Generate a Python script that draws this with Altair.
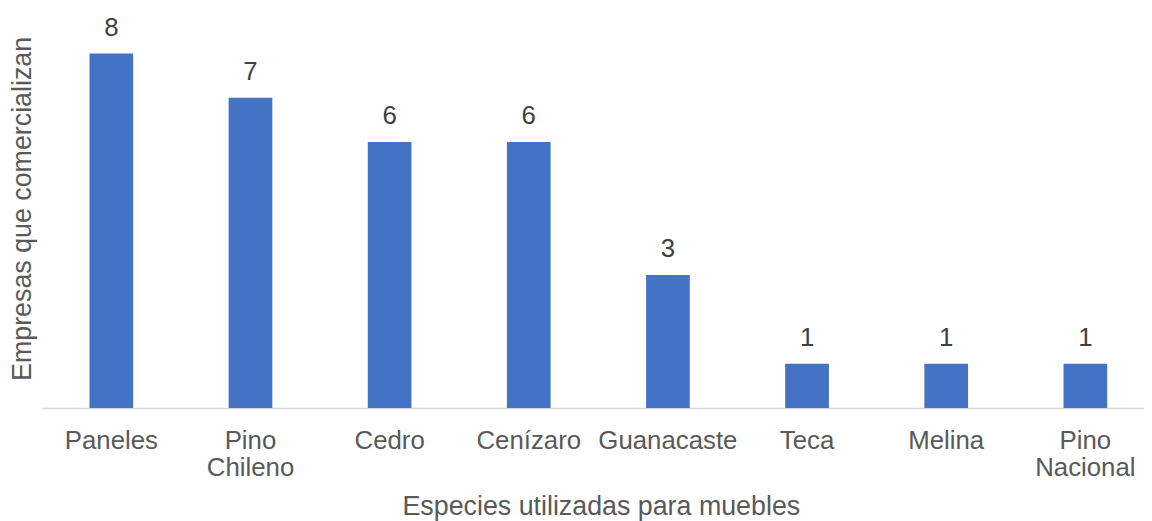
import altair as alt
import pandas as pd

categories = ["Paneles", "Pino Chileno", "Cedro", "Cenízaro", "Guanacaste", "Teca", "Melina", "Pino Nacional"]
values = [8, 7, 6, 6, 3, 1, 1, 1]

df = pd.DataFrame({"especie": categories, "empresas": values})

FONT = "Liberation Sans"

x = alt.X(
    "especie:N",
    sort=categories,
    scale=alt.Scale(range=[0, 1121], paddingInner=0, paddingOuter=0),
    axis=alt.Axis(
        title="Especies utilizadas para muebles",
        titleFont=FONT,
        titleFontSize=27,
        titleFontWeight="normal",
        titleColor="#595959",
        titleX=563,
        titleY=99,
        titleAlign="center",
        titleBaseline="middle",
        labelFont=FONT,
        labelFontSize=26,
        labelColor="#595959",
        labelAngle=0,
        labelPadding=20,
        labelLineHeight=27,
        labelExpr="split(datum.label, ' ')",
        ticks=False,
        domainColor="#D9D9D9",
        domainWidth=1.5,
        grid=False,
    ),
)

y = alt.Y(
    "empresas:Q",
    scale=alt.Scale(domain=[0, 8], nice=False),
    axis=alt.Axis(
        title="Empresas que comercializan",
        titleFont=FONT,
        titleFontSize=27,
        titleFontWeight="normal",
        titleColor="#595959",
        titleAngle=-90,
        titleX=-19,
        titleY=156,
        titleAlign="center",
        titleBaseline="middle",
        labels=False,
        ticks=False,
        domain=False,
        grid=False,
    ),
)

base = alt.Chart(df).encode(x=x, y=y)
bars = base.mark_bar(size=44, color="#4472C4")
text = base.mark_text(
    dy=-18, baseline="alphabetic", font=FONT, fontSize=26, color="#404040"
).encode(text="empresas:Q")

chart = (
    alt.layer(bars, text)
    .properties(
        width=1110,
        height=357,
        autosize=alt.AutoSizeParams(type="none"),
        padding={"left": 34, "top": 44, "right": 0, "bottom": 112},
        view=alt.ViewBackground(stroke="transparent", strokeWidth=0),
    )
    .configure_view(stroke="transparent", strokeWidth=0)
    .configure(background="white")
)

chart.save("out.html", embed_options={"renderer": "svg", "actions": False})
